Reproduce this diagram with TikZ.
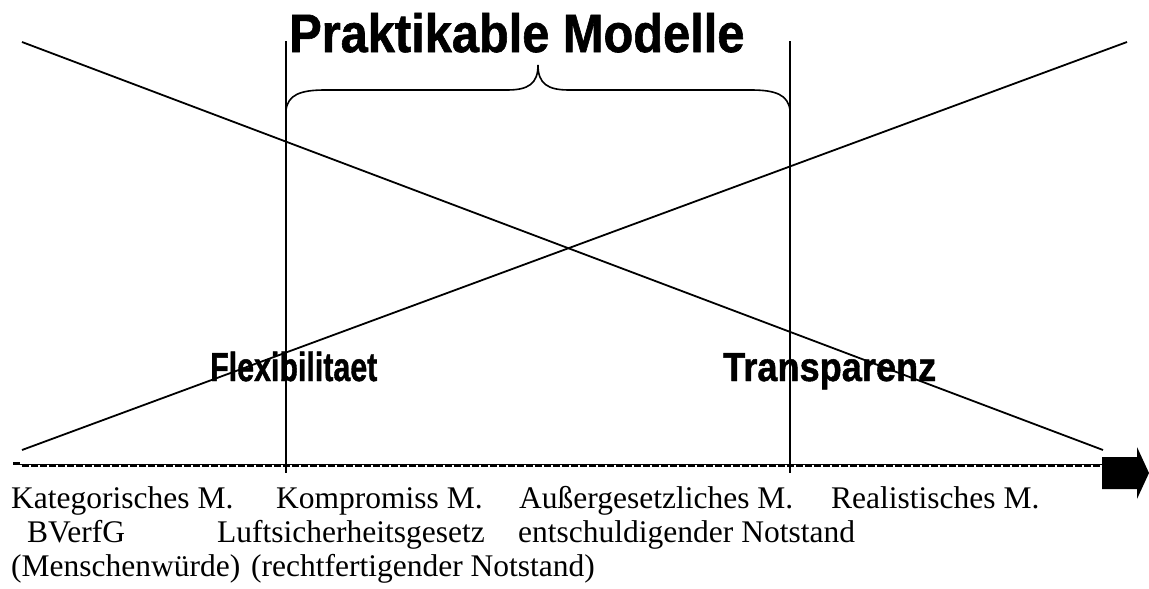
\documentclass[tikz,border=0pt]{standalone}
\usepackage{fontspec}
\setmainfont{Liberation Serif}
\newfontfamily\headfont{Liberation Sans}[BoldFeatures={FakeBold=1.2}]
\usepackage{graphicx}
\begin{document}
\begin{tikzpicture}[x=1pt,y=-1pt,
  thinline/.style={line width=1.8pt},
  bracestyle/.style={line width=1.6pt},
  modlabel/.style={font=\fontsize{31.5}{34}\selectfont, anchor=base west, inner sep=0pt},
  bigtitle/.style={font=\headfont\bfseries\fontsize{54}{60}\selectfont, anchor=base west, inner sep=0pt},
  crit/.style={font=\headfont\bfseries\fontsize{40.5}{44}\selectfont, anchor=base west, inner sep=0pt}]
\useasboundingbox (0,0) rectangle (1149,589);

% end points of the two crossing lines
\coordinate (dTL) at (22,42);
\coordinate (dBR) at (1103,450);
\coordinate (uBL) at (22,450);
\coordinate (uTR) at (1127,42);
\draw[thinline] (dTL) -- (dBR);
\draw[thinline] (uBL) -- (uTR);

% vertical borders of the practicable range
\coordinate (vLt) at (286,41);
\coordinate (vLb) at (286,473);
\coordinate (vRt) at (790,41);
\coordinate (vRb) at (790,473);
\draw[thinline] (vLt) -- (vLb);
\draw[thinline] (vRt) -- (vRb);

% curly brace between the borders
\coordinate (bL) at (286,110);
\coordinate (bTip) at (538,65);
\coordinate (bR) at (790,110);
\draw[bracestyle] (bL) .. controls (288,95) and (300,90) .. (325,90)
  -- (507,90) .. controls (528,90) and (538,84) .. (bTip)
  .. controls (538,84) and (548,90) .. (569,90)
  -- (751,90) .. controls (776,90) and (788,95) .. (bR);

% axis: thin rule with heavy dashes, ending in a block arrow
\coordinate (axS) at (13,464);
\coordinate (axL) at (22,466);
\coordinate (axR) at (1102,466);
\draw[line width=1pt] (axS) -- (axR |- axS);
\draw[line width=2.2pt] (13,463.5) -- (20,463.5);
\draw[line width=2.4pt, dash pattern=on 7pt off 2pt] (axL) -- (axR);
\fill (1102,457) -- (1137,457) -- (1137,447) -- (1149,473) -- (1137,499)
  -- (1137,489) -- (1102,489) -- cycle;

% headings
\node[bigtitle] (title) at (289,52) {\scalebox{0.903}[1]{Praktikable Modelle}};
\node[crit] (flex) at (210,381) {\scalebox{0.75}[1]{Flexibilitaet}};
\node[crit] (transp) at (723,381) {\scalebox{0.893}[1]{Transparenz}};

% model names along the axis
\node[modlabel] (kat) at (11,508) {Kategorisches M.};
\node[modlabel] (komp) at (276,508) {Kompromiss M.};
\node[modlabel] (ausz) at (519,508) {Außergesetzliches M.};
\node[modlabel] (real) at (831,508) {Realistisches M.};
\node[modlabel] (bverf) at (27,542) {BVerfG};
\node[modlabel] (luft) at (217,542) {Luftsicherheitsgesetz};
\node[modlabel] (entsch) at (518,542) {entschuldigender Notstand};
\node[modlabel] (mw) at (11,576) {(Menschenwürde)};
\node[modlabel] (recht) at (251,576) {(rechtfertigender Notstand)};
\end{tikzpicture}
\end{document}
